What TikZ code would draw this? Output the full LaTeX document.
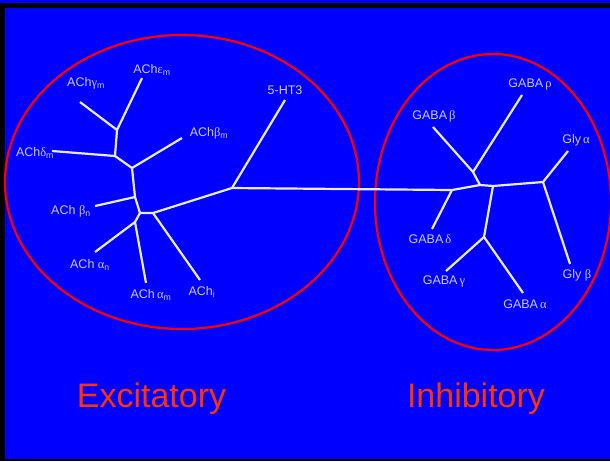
\documentclass[tikz,border=0pt]{standalone}
\usepackage{fontspec}
\setmainfont{Liberation Sans}
\newfontfamily\greekfont{Liberation Serif}
\newcommand{\gr}[1]{{\greekfont #1}}
\definecolor{slideblue}{RGB}{0,0,255}
\definecolor{labelgray}{RGB}{205,205,245}
\definecolor{titlered}{RGB}{255,51,0}
\tikzset{
  branch/.style={white!92!slideblue, line width=2.2pt, line join=round},
  ring/.style={red, line width=2.2pt},
  lbl/.style={text=labelgray, inner sep=0pt, font=\fontsize{12.5}{14}\selectfont},
  title/.style={text=titlered, inner sep=0pt, anchor=base, font=\fontsize{34}{40}\selectfont}
}
\begin{document}
\begin{tikzpicture}[x=1pt,y=-1pt]
  \useasboundingbox (0,0) rectangle (610,461);
  \fill[slideblue] (0,0) rectangle (610,461);
  \draw[black, line width=5pt] (2.5,461) -- (2.5,5) -- (610,5);
  \draw[black, line width=2pt] (0,460) -- (610,460);
  % rings
  \draw[ring] (182,182) ellipse [x radius=177, y radius=147];
  \draw[ring] (493,202) ellipse [x radius=118, y radius=148];
  % left tree
  \coordinate (tgm) at (80,102);
  \coordinate (tem) at (142,78);
  \coordinate (tdm) at (52,151);
  \coordinate (tbm) at (182,138);
  \coordinate (tbn) at (95,206);
  \coordinate (tan) at (95,252);
  \coordinate (tam) at (146,283);
  \coordinate (ti) at (200,280);
  \coordinate (tht) at (285,100);
  \coordinate (j1) at (117,130);
  \coordinate (j2) at (115,156);
  \coordinate (j3) at (132,168);
  \coordinate (j4) at (135,197);
  \coordinate (j5) at (140,213);
  \coordinate (j6) at (153,213);
  \coordinate (j7) at (135,222);
  \coordinate (j8) at (232,188);
  % right tree
  \coordinate (k1) at (452,190);
  \coordinate (k2) at (480,185);
  \coordinate (k3) at (473,172);
  \coordinate (k4) at (493,186);
  \coordinate (k5) at (543,182);
  \coordinate (k6) at (484,237);
  \coordinate (tgb) at (433,127);
  \coordinate (tgr) at (522,95);
  \coordinate (tya) at (568,151);
  \coordinate (tyb) at (570,264);
  \coordinate (tgd) at (432,229);
  \coordinate (tgg) at (446,271);
  \coordinate (tga) at (523,293);
  \draw[branch] (tgm) -- (j1) -- (tem);
  \draw[branch] (j1) -- (j2) -- (tdm);
  \draw[branch] (j2) -- (j3) -- (tbm);
  \draw[branch] (j3) -- (j4) -- (j5) -- (j7) -- (tan);
  \draw[branch] (j4) -- (tbn);
  \draw[branch] (j7) -- (tam);
  \draw[branch] (j5) -- (j6) -- (ti);
  \draw[branch] (j6) -- (j8) -- (tht);
  \draw[branch] (j8) -- (k1) -- (tgd);
  \draw[branch] (k1) -- (k2) -- (k3) -- (tgb);
  \draw[branch] (k3) -- (tgr);
  \draw[branch] (k2) -- (k4) -- (k5) -- (tya);
  \draw[branch] (k5) -- (tyb);
  \draw[branch] (k4) -- (k6) -- (tgg);
  \draw[branch] (k6) -- (tga);
  % labels
  \node[lbl] (gm) at (86,83) {ACh\gr{γ}\textsubscript{m}};
  \node[lbl] (em) at (152,70) {ACh\gr{ε}\textsubscript{m}};
  \node[lbl] (bm) at (209,133) {ACh\gr{β}\textsubscript{m}};
  \node[lbl] (dm) at (35,153) {ACh\gr{δ}\textsubscript{m}};
  \node[lbl] (bn) at (71,211) {ACh \gr{β}\textsubscript{n}};
  \node[lbl] (an) at (90,265) {ACh \gr{α}\textsubscript{n}};
  \node[lbl] (am) at (151,295) {ACh\,\gr{α}\textsubscript{m}};
  \node[lbl] (ai) at (202,292) {ACh\textsubscript{i}};
  \node[lbl] (ht) at (285,90) {5-HT3};
  \node[lbl] (gb) at (434,116) {GABA\,\gr{β}};
  \node[lbl] (gr) at (530,84) {GABA\,\gr{ρ}};
  \node[lbl] (ya) at (576,140) {Gly\,\gr{α}};
  \node[lbl] (gd) at (430,239) {GABA\,\gr{δ}};
  \node[lbl] (gg) at (444,281) {GABA\,\gr{γ}};
  \node[lbl] (ga) at (525,304) {GABA\,\gr{α}};
  \node[lbl] (yb) at (577,275) {Gly \gr{β}};
  % group titles
  \node[title] (exc) at (151.5,407) {Excitatory};
  \node[title] (inh) at (476,407) {Inhibitory};
\end{tikzpicture}
\end{document}
